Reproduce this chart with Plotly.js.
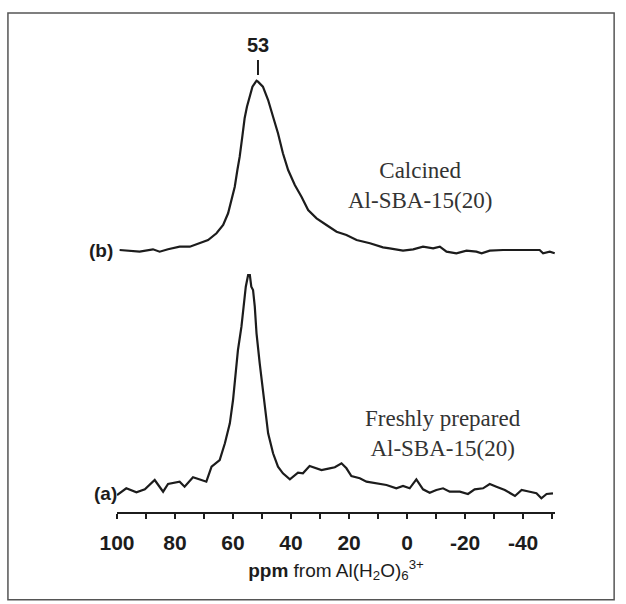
<!DOCTYPE html>
<html>
<head>
<meta charset="utf-8">
<script src="https://cdn.plot.ly/plotly-3.0.1.min.js"></script>
<style>html,body{margin:0;padding:0;background:#fff;}#chart{width:626px;height:604px;}</style>
</head>
<body>
<div id="chart"></div>
<script>
// Spectrum (a): freshly prepared Al-SBA-15(20)
const ppmA = [100,96.8,93.3,90.4,87.0,84.1,82.4,78.4,76.7,73.8,70.9,69.2,67.4,64.6,62.8,61.1,60.0,59.1,58.3,57.1,56.3,55.6,54.8,54.2,53.7,53.1,52.5,51.9,50.8,49.9,49.1,47.9,46.2,44.5,42.8,40.4,37.6,35.9,33.6,31.2,29.5,26.7,24.9,22.6,20.9,19.2,16.3,14.0,10.6,7.1,3.7,1.4,-0.9,-3.2,-5.5,-7.8,-10.1,-12.4,-14.7,-18.2,-21.0,-23.3,-26.2,-28.5,-30.8,-33.7,-37.2,-39.5,-42.3,-44.6,-46.3,-48.1,-50.3];
const intA = [17,23.7,19.7,22.7,32,20.3,28,30.3,25.3,34.7,32,30.3,45.3,52,68.7,88.7,112,138.7,162,185.3,205.3,225.3,237,237,225.3,222,205.3,178.7,148.7,128.7,105.3,78.7,58.7,45.3,38.7,32.7,39.3,38.7,46,43.7,42,43.7,44.7,48.7,43.7,36,33.7,30.3,28.7,27,23.7,26,23.7,32.7,22.7,19.3,22,23.7,20.3,20.3,18,22.7,23.7,28,25.3,22,16,22,20.3,18.7,13.7,18,18.7];

// Spectrum (b): calcined Al-SBA-15(20)
const ppmB = [99.1,95.6,92.2,87.6,85.3,82.4,78.4,74.9,71.5,68.6,65.7,63.4,61.7,60.6,59.4,58.5,57.7,56.8,56.0,55.2,54.2,53.3,51.9,51.4,49.7,47.9,46.2,44.5,42.8,41.0,38.7,36.4,34.1,31.2,27.8,24.3,20.9,17.4,12.8,8.3,6.0,1.4,-2.1,-5.5,-9.0,-11.3,-13.6,-17.0,-20.5,-23.9,-25.7,-28.5,-33.1,-37.7,-42.3,-45.7,-46.9,-49.2,-50.9];
const intB = [17,16.3,15.3,17.7,15.3,17.7,20.3,20.3,24.3,27,33.7,42,53.7,67,80.3,97,110.3,130.3,148.7,160.3,172,180.3,186.3,185.3,180.3,167,150.3,133.7,113.7,97,82,70.3,57,48.7,42,35.3,32,27,23.7,19.7,18.7,16.3,17.7,20.3,18.7,20.3,15.3,13.7,16.3,15.3,13.7,16.3,17,17,17,17,13.7,15.3,13.7];
const offsetB = 245;

const peakLabel = "53";
const peakPpm = 51.4;
const tickVals = [100,80,60,40,20,0,-20,-40];
const tickText = ["100","80","60","40","20","0","-20","-40"];

const lineStyle = {color:'#1c1c1c', width:2.2};
const traces = [
  {x: ppmA, y: intA, mode:'lines', line: lineStyle, hoverinfo:'skip'},
  {x: ppmB, y: intB.map(v => v + offsetB), mode:'lines', line: lineStyle, hoverinfo:'skip'}
];

const serif = {family:'"Liberation Serif", "Times New Roman", serif', size:23, color:'#333'};
const sansB = {family:'"Liberation Sans", Arial, sans-serif', size:19, color:'#1c1c1c', weight:'bold'};

const layout = {
  width:626, height:604,
  margin:{l:117, r:71, t:40, b:92},
  paper_bgcolor:'#fff', plot_bgcolor:'#fff',
  showlegend:false,
  xaxis:{
    range:[100,-51], showgrid:false, zeroline:false,
    showline:true, linecolor:'#1c1c1c', linewidth:2,
    tickmode:'array', tickvals:tickVals, ticktext:tickText,
    ticks:'outside', ticklen:5, tickwidth:2, tickcolor:'#1c1c1c',
    minor:{dtick:10, tick0:0, ticks:'outside', ticklen:5, tickwidth:2, tickcolor:'#1c1c1c', showgrid:false},
    ticklabelstandoff:6,
    tickfont:{family:'"Liberation Sans", Arial, sans-serif', size:21, color:'#1c1c1c', weight:'bold'},
    title:{text:'<b>ppm</b> from Al(H<sub>2</sub>O)<sub>6</sub><sup>3+</sup>', standoff:10,
      font:{family:'"Liberation Sans", Arial, sans-serif', size:19, color:'#1c1c1c'}}
  },
  yaxis:{range:[0,472], visible:false, fixedrange:true},
  annotations:[
    {x:peakPpm, y:467, xref:'x', yref:'y', text:peakLabel, showarrow:false, yanchor:'middle',
      font:{family:'"Liberation Sans", Arial, sans-serif', size:20, color:'#1c1c1c', weight:'bold'}},
    {x:0.0, y:262, xref:'paper', yref:'y', text:'(b)', showarrow:false, xanchor:'right', xshift:-2, font:sansB},
    {x:0.0, y:19, xref:'paper', yref:'y', text:'(a)', showarrow:false, xanchor:'right', xshift:2, font:sansB},
    {x:-4.5, y:327, xref:'x', yref:'y', text:'Calcined<br>Al-SBA-15(20)', showarrow:false, align:'center', font:serif},
    {x:-12.5, y:79, xref:'x', yref:'y', text:'Freshly prepared<br>Al-SBA-15(20)', showarrow:false, align:'center', font:serif}
  ],
  shapes:[
    {type:'line', xref:'x', yref:'y', x0:peakPpm, x1:peakPpm, y0:437, y1:452, line:{color:'#1c1c1c', width:2}},
    {type:'rect', xref:'paper', yref:'paper', x0:-0.249, x1:1.135, y0:-0.186, y1:1.057, line:{color:'#555', width:1.5}}
  ]
};

Plotly.newPlot('chart', traces, layout, {staticPlot:true, displayModeBar:false});
</script>
</body>
</html>
